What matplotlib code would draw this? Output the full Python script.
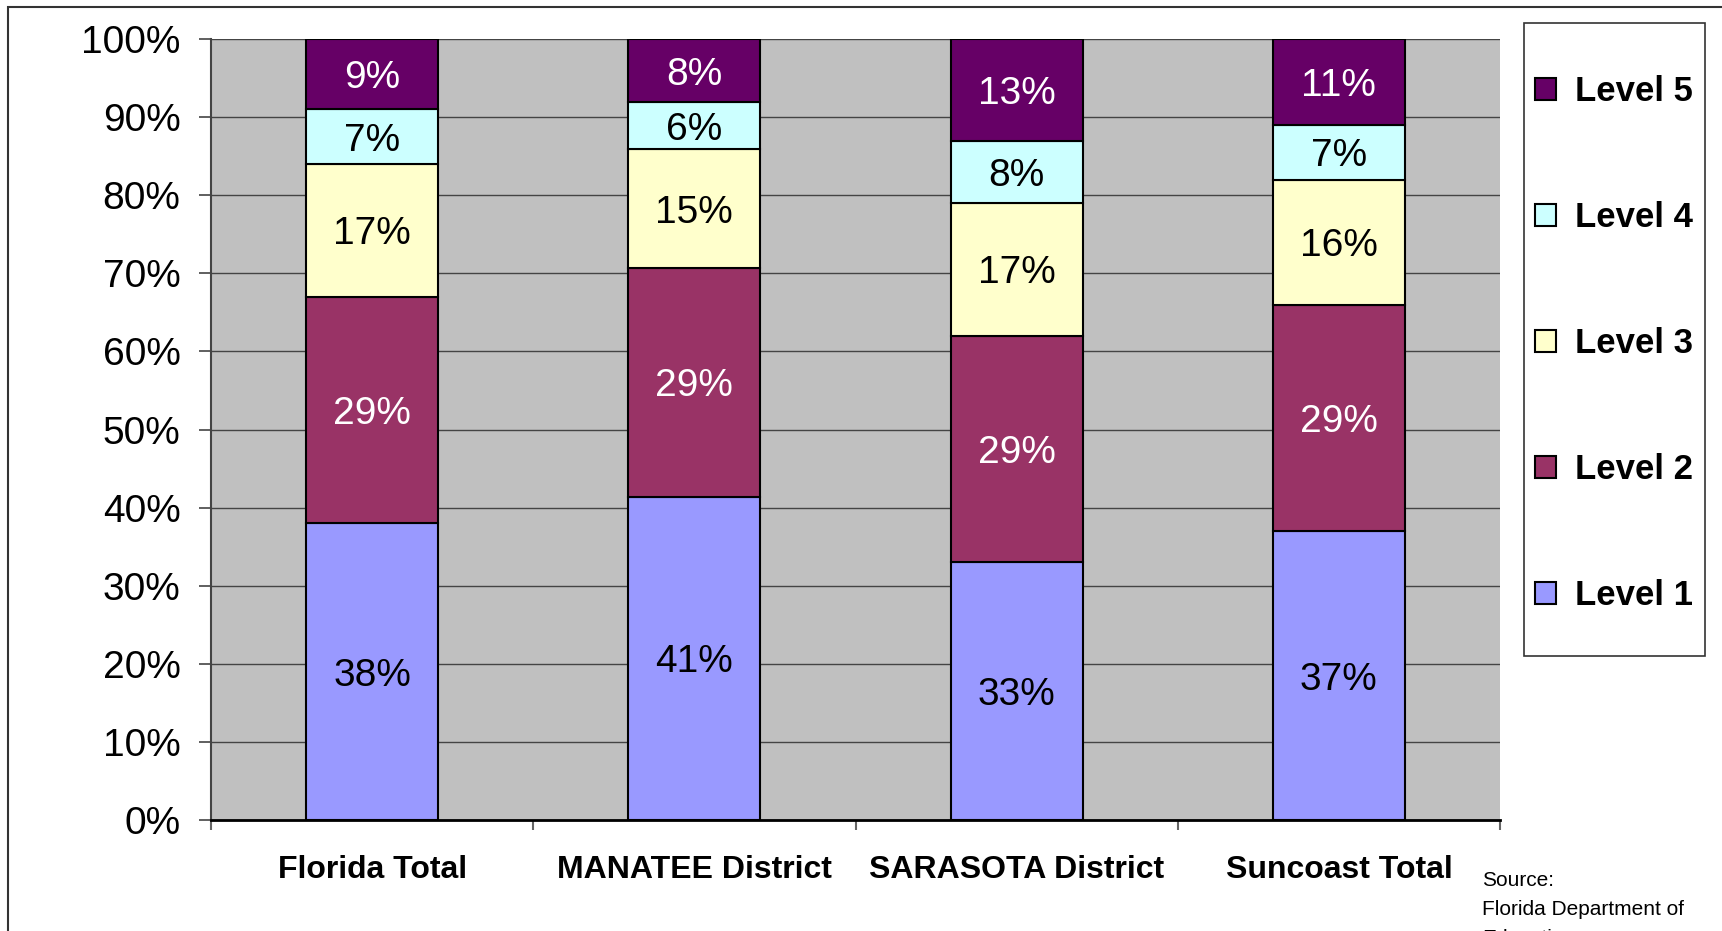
import matplotlib.pyplot as plt
from matplotlib.patches import Rectangle
from matplotlib.ticker import FixedLocator
import numpy as np

plt.rcParams['font.family'] = ['Liberation Sans', 'DejaVu Sans']

# FCAT score distribution by district (percent of students)
categories = ['Florida Total', 'MANATEE District', 'SARASOTA District', 'Suncoast Total']
levels = ['Level 1', 'Level 2', 'Level 3', 'Level 4', 'Level 5']
level1 = [38, 41, 33, 37]
level2 = [29, 29, 29, 29]
level3 = [17, 15, 17, 16]
level4 = [7, 6, 8, 7]
level5 = [9, 8, 13, 11]

colors = ['#9999FF', '#993366', '#FFFFCC', '#CCFFFF', '#660066']
text_colors = ['black', 'white', 'black', 'black', 'white']

W, H = 1722, 931
fig = plt.figure(figsize=(W / 100, H / 100), dpi=100)
ax = fig.add_axes([211 / W, 1 - 820 / H, (1500 - 211) / W, (820 - 39) / H])
ax.set_facecolor('#C0C0C0')

data = np.array([level1, level2, level3, level4, level5], dtype=float)
totals = data.sum(axis=0)
pct = data / totals * 100  # 100% stacked

x = np.arange(len(categories))
bottom = np.zeros(len(categories))
bars = []
for i in range(len(levels)):
    b = ax.bar(x, pct[i], 0.41, bottom=bottom, color=colors[i], edgecolor='black',
               linewidth=1.5, label=levels[i], zorder=3)
    bars.append(b)
    for j in range(len(categories)):
        ax.text(x[j], bottom[j] + pct[i][j] / 2, '{}%'.format(int(data[i][j])),
                ha='center', va='center_baseline', fontsize=28, color=text_colors[i], zorder=4)
    bottom += pct[i]

ax.set_xlim(-0.5, 3.5)
ax.set_ylim(0, 100)
ax.set_yticks(np.arange(0, 101, 10))
ax.set_yticklabels(['{}%'.format(v) for v in range(0, 101, 10)], fontsize=28)
ax.set_xticks(x)
ax.set_xticklabels(categories, fontsize=23, fontweight='bold')
ax.xaxis.set_minor_locator(FixedLocator(np.arange(-0.5, 4, 1)))
ax.tick_params(axis='x', which='major', length=0, pad=25)
ax.tick_params(axis='x', which='minor', length=7, width=1.5, color='#666666', direction='out')
ax.tick_params(axis='y', length=9, width=1.2, color='#444444', pad=13)

ax.grid(axis='y', color='#444444', linewidth=1)
ax.set_axisbelow(True)
for s in ['top', 'right']:
    ax.spines[s].set_visible(False)
ax.spines['left'].set_color('#444444')
ax.spines['left'].set_linewidth(1.5)
ax.spines['bottom'].set_color('black')
ax.spines['bottom'].set_linewidth(2)

# legend box drawn separately, entries from the bar handles
fig.add_artist(Rectangle((1524 / W, 1 - 656 / H), (1705 - 1524) / W, (656 - 23) / H,
                         transform=fig.transFigure, facecolor='white', edgecolor='#333333',
                         linewidth=1.2))
leg = fig.legend(bars[::-1], levels[::-1], loc='upper left',
                 bbox_to_anchor=(1535 / W, 1 - 75 / H), frameon=False,
                 prop={'size': 25, 'weight': 'bold'}, handlelength=0.6, handleheight=0.6,
                 handletextpad=0.55, labelspacing=2.68, borderpad=0, borderaxespad=0)

# outer chart frame
fig.add_artist(Rectangle((8 / W, -0.1), 1.2, 1.1 - 7 / H, transform=fig.transFigure,
                         facecolor='none', edgecolor='#333333', linewidth=1.5))

fig.text(1482 / W, 1 - 886 / H, 'Source:', fontsize=15, va='baseline')
fig.text(1482 / W, 1 - 915 / H, 'Florida Department of', fontsize=15, va='baseline')
fig.text(1482 / W, 1 - 944 / H, 'Education', fontsize=15, va='baseline')

fig.savefig('out.png', dpi=100)
